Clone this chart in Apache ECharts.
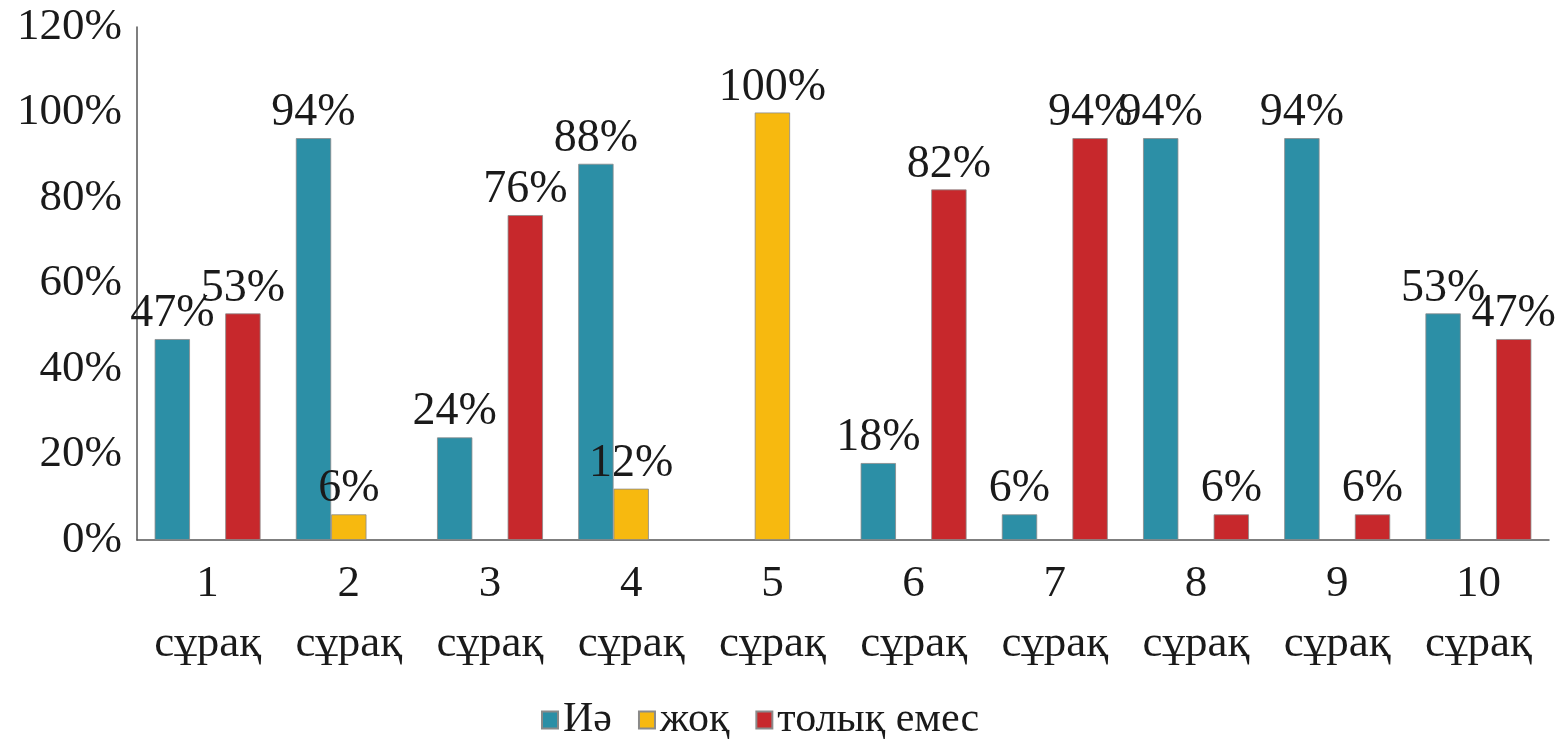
<!DOCTYPE html>
<html>
<head>
<meta charset="utf-8">
<script src="https://cdn.jsdelivr.net/npm/echarts@6/dist/echarts.min.js"></script>
<style>
html,body{margin:0;padding:0;background:#fff;}
#chart{width:1561px;height:740px;}
</style>
</head>
<body>
<div id="chart"></div>
<script>
var categories = ['1\nсұрақ','2\nсұрақ','3\nсұрақ','4\nсұрақ','5\nсұрақ','6\nсұрақ','7\nсұрақ','8\nсұрақ','9\nсұрақ','10\nсұрақ'];
var seriesNames = ['Иә','жоқ','толық емес'];
var valuesYes = [47, 94, 24, 88, 0, 18, 6, 94, 94, 53];
var valuesNo = [0, 6, 0, 12, 100, 0, 0, 0, 0, 0];
var valuesPartial = [53, 0, 76, 0, 0, 82, 94, 6, 6, 47];
var yTicks = [0, 20, 40, 60, 80, 100, 120];

var colors = ['#2C8FA6', '#F7B90F', '#C7282C'];
var FONT = '"Liberation Serif", "Times New Roman", serif';

function mk(name, vals, color) {
  return {
    name: name,
    type: 'bar',
    data: vals.map(function(v){ return v === 0 ? '-' : v; }),
    barGap: '0%',
    barCategoryGap: '25%',
    itemStyle: { color: color, borderColor: '#8a8a8a', borderWidth: 0.8 },
    label: {
      show: true, position: 'top', distance: 2,
      formatter: '{c}%',
      fontFamily: FONT, fontSize: 46, color: '#1a1a1a'
    }
  };
}

var chart = echarts.init(document.getElementById('chart'));
chart.setOption({
  animation: false,
  backgroundColor: '#fff',
  grid: { left: 137, right: 12, top: 27, bottom: 200, containLabel: false },
  legend: {
    top: 694, left: 536,
    data: seriesNames,
    icon: 'rect', itemWidth: 16, itemHeight: 17, itemGap: 26,
    textStyle: { fontFamily: FONT, fontSize: 42, color: '#1a1a1a' }
  },
  xAxis: {
    type: 'category',
    data: categories,
    axisLine: { lineStyle: { color: '#555', width: 1.5 } },
    axisTick: { show: false },
    axisLabel: { fontFamily: FONT, fontSize: 45, color: '#1a1a1a', lineHeight: 60, margin: 14, interval: 0 }
  },
  yAxis: {
    type: 'value',
    min: yTicks[0], max: yTicks[yTicks.length-1], interval: 20,
    axisLine: { show: true, lineStyle: { color: '#555', width: 1.5 } },
    axisTick: { show: false },
    splitLine: { show: false },
    axisLabel: { fontFamily: FONT, fontSize: 45, color: '#1a1a1a', margin: 15, padding: [12,0,0,0], formatter: '{value}%' }
  },
  series: [
    mk(seriesNames[0], valuesYes, colors[0]),
    mk(seriesNames[1], valuesNo, colors[1]),
    mk(seriesNames[2], valuesPartial, colors[2])
  ]
});
</script>
</body>
</html>
